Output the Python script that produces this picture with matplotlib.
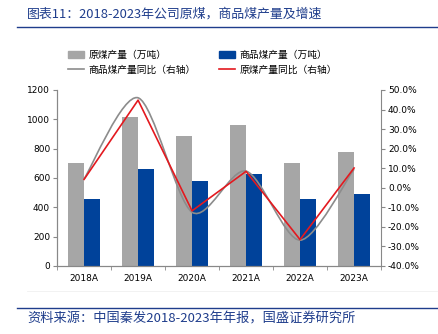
import numpy as np
import matplotlib
matplotlib.use("Agg")
import matplotlib.pyplot as plt
from matplotlib.path import Path
from matplotlib.patches import PathPatch, Patch
from matplotlib.lines import Line2D

plt.rcParams['font.family'] = ['Noto Sans CJK SC', 'DejaVu Sans']

# ─── Data ──────────────────────────────────────────────────────────────────────
years = ["2018A", "2019A", "2020A", "2021A", "2022A", "2023A"]
raw_coal = [700, 1013, 888, 961, 704, 775]          # 原煤产量（万吨）
commodity_coal = [455, 659, 579, 627, 459, 493]     # 商品煤产量（万吨）
commodity_yoy = [4.5, 46.0, -12.5, 8.5, -26.8, 9.5]  # 商品煤产量同比（%）
raw_yoy = [4.3, 44.8, -11.8, 8.4, -26.5, 10.1]       # 原煤产量同比（%）

left_ticks = [0, 200, 400, 600, 800, 1000, 1200]
right_ticks = [-40, -30, -20, -10, 0, 10, 20, 30, 40, 50]

GRAY_BAR = "#A6A6A6"
BLUE_BAR = "#00429A"
GRAY_LINE = "#8C8C8C"
RED_LINE = "#E3191F"
NAVY = "#1F3D8C"


def smooth_path(xs, ys, k=7):
    """Excel-style smoothed line as cubic Bezier segments."""
    pts = list(zip(xs, ys))
    n = len(pts)
    verts = [pts[0]]
    codes = [Path.MOVETO]
    for i in range(n - 1):
        p0 = np.array(pts[max(i - 1, 0)])
        p1 = np.array(pts[i])
        p2 = np.array(pts[i + 1])
        p3 = np.array(pts[min(i + 2, n - 1)])
        c1 = p1 + (p2 - p0) / k
        c2 = p2 - (p3 - p1) / k
        verts += [tuple(c1), tuple(c2), tuple(p2)]
        codes += [Path.CURVE4] * 3
    return Path(verts, codes)


fig = plt.figure(figsize=(4.39, 3.34), dpi=100)
ax = fig.add_axes([0.130, 0.2036, 0.738, 0.527])

x = np.arange(len(years))
w = 0.296
ax.bar(x - w / 2, raw_coal, w, color=GRAY_BAR, zorder=2)
ax.bar(x + w / 2, commodity_coal, w, color=BLUE_BAR, zorder=2)

ax.set_xlim(-0.5, len(years) - 0.5)
ax.set_ylim(0, 1200)
ax.set_yticks(left_ticks)
ax.set_yticklabels([str(v) for v in left_ticks], fontsize=6.5, family="DejaVu Sans")
ax.set_xticks(x)
ax.set_xticklabels(years, fontsize=6.5, family="DejaVu Sans")
ax.set_xticks(np.arange(len(years) + 1) - 0.5, minor=True)
ax.tick_params(axis="x", which="major", length=0, pad=6)
ax.tick_params(axis="x", which="minor", length=3, color="#888888")
ax.tick_params(axis="y", length=3, color="#888888", pad=2)

ax2 = ax.twinx()
ax2.set_ylim(-40, 50)
ax2.set_yticks(right_ticks)
ax2.set_yticklabels([f"{v:.1f}%" for v in right_ticks], fontsize=6.5, family="DejaVu Sans")
ax2.tick_params(axis="y", length=3, color="#888888", pad=2)

ax2.add_patch(PathPatch(smooth_path(x, commodity_yoy), facecolor="none",
                        edgecolor=GRAY_LINE, lw=1.2, zorder=3))
ax2.plot(x, raw_yoy, color=RED_LINE, lw=1.2, zorder=4)

for a in (ax, ax2):
    a.spines["top"].set_visible(False)
    for s in ("left", "right", "bottom"):
        a.spines[s].set_color("#888888")
        a.spines[s].set_linewidth(0.8)
ax.spines["right"].set_visible(False)

# legend: filled column-wise, so order gives rows [gray bar, blue bar] / [gray line, red line]
handles = [Patch(color=GRAY_BAR), Line2D([], [], color=GRAY_LINE, lw=1.2),
           Patch(color=BLUE_BAR), Line2D([], [], color=RED_LINE, lw=1.2)]
labels = ["原煤产量（万吨）", "商品煤产量同比（右轴）", "商品煤产量（万吨）", "原煤产量同比（右轴）"]
fig.legend(handles, labels, ncol=2, loc="upper left", bbox_to_anchor=(68 / 439, 1 - 50 / 334),
           frameon=False, fontsize=7, handlelength=1.65, handleheight=0.75,
           columnspacing=2.3, handletextpad=0.5, labelspacing=0.45,
           borderpad=0, borderaxespad=0)

# Title and source
fig.text(27 / 439, 1 - 14 / 334, "图表11：2018-2023年公司原煤，商品煤产量及增速",
         fontsize=9.3, color=NAVY, va="center", ha="left")
fig.add_artist(Line2D([17 / 439, 437 / 439], [1 - 27 / 334] * 2, color=NAVY, lw=1.0))
fig.add_artist(Line2D([27 / 439, 437 / 439], [1 - 291 / 334] * 2, color="#F0F0F0", lw=0.6))
fig.add_artist(Line2D([17 / 439, 437 / 439], [1 - 307.5 / 334] * 2, color=NAVY, lw=1.0))
fig.text(27 / 439, 1 - 319 / 334, "资料来源：中国秦发2018-2023年年报，国盛证券研究所",
         fontsize=9.5, color=NAVY, va="center", ha="left")

fig.savefig("out.png", dpi=100)
